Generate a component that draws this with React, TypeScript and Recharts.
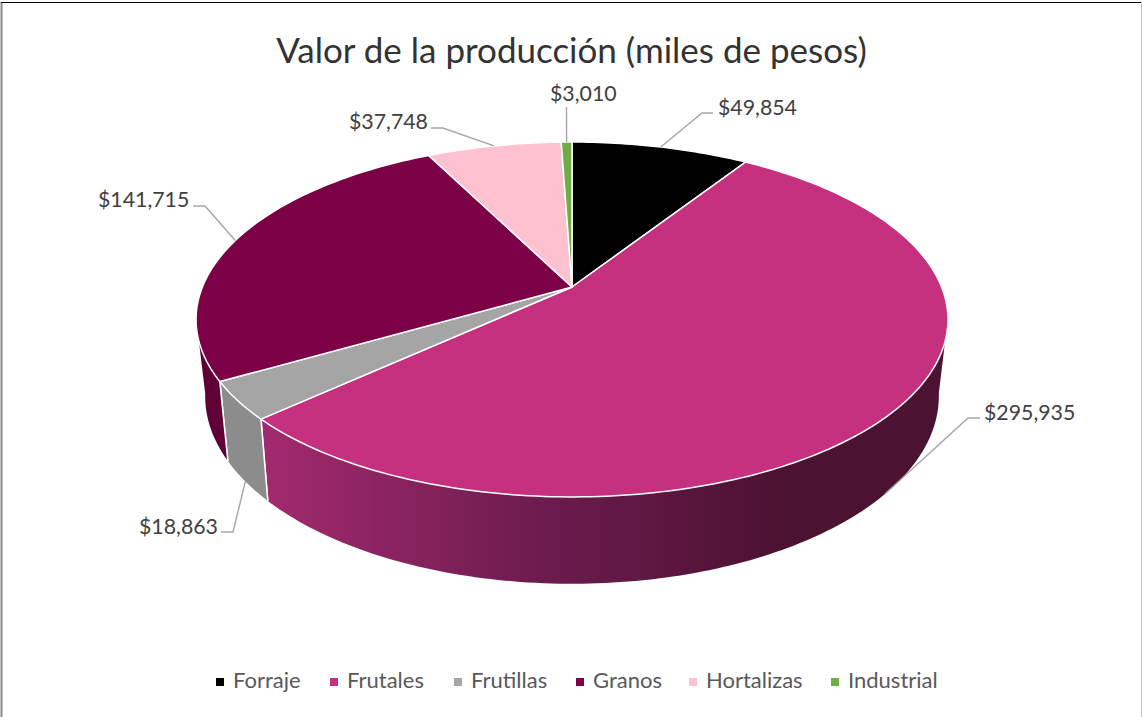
import { Legend, Pie, PieChart } from "recharts";

const categories = ["Forraje", "Frutales", "Frutillas", "Granos", "Hortalizas", "Industrial"];
const values = [49854, 295935, 18863, 141715, 37748, 3010];
const topColors = ["#000000", "#C5307F", "#A5A5A5", "#7B0045", "#FDC1CF", "#70AD47"];
const wallColors = ["#000000", "url(#frutalesWall)", "#8C8C8C", "#5F0036", "#C09098", "#557F35"];

// label text start and leader line elbow, one per category
const labelX = [718, 984, 139, 98, 349, 550];
const labelY = [107, 412, 526, 199, 121, 93];
const elbows = [
  [[702, 113], [713, 113]],
  [[968, 418], [980, 418]],
  [[233, 532], [221, 532]],
  [[205, 206], [193, 206]],
  [[443, 128], [431, 128]],
  [[566.5, 107], [566.5, 107]],
];
const legendLeft = [216, 330, 454, 576, 689, 831];

const data = categories.map((name, i) => ({
  name,
  value: values[i],
  fill: topColors[i],
  wallFill: wallColors[i],
}));

const FONT = "Lato, sans-serif";
const WALL_FROM = 100;
const WALL_TO = 260;

// the pie is seen in perspective: a circle mapped through a homography
function project(cx: number, cy: number, r: number, theta: number, lower = false) {
  const rad = (theta * Math.PI) / 180;
  const X = Math.sin(rad);
  const Y = Math.cos(rad);
  const k = lower ? 0.187 : 0.183;
  const w = 1 + k * Y;
  const b = lower ? r * 0.975 : r;
  const a = lower ? r * 0.49 : r * 0.464;
  const y0 = lower ? cy + 74 : cy;
  return [cx + (b * X) / w, y0 - (a * Y) / w];
}

function arcPoints(cx: number, cy: number, r: number, from: number, to: number, lower = false) {
  const pts: number[][] = [];
  const steps = Math.max(2, Math.ceil(Math.abs(to - from)));
  for (let i = 0; i <= steps; i++) {
    pts.push(project(cx, cy, r, from + ((to - from) * i) / steps, lower));
  }
  return pts;
}

const toPath = (pts: number[][]) =>
  pts.map((p, i) => `${i === 0 ? "M" : "L"}${p[0].toFixed(2)},${p[1].toFixed(2)}`).join(" ");

function TopSlice(props: any) {
  const { cx, cy, outerRadius, startAngle, endAngle, fill } = props;
  const pts = arcPoints(cx, cy, outerRadius, 90 - startAngle, 90 - endAngle);
  return (
    <path
      d={`M${cx},${cy} ${toPath(pts).replace("M", "L")} Z`}
      fill={fill}
      stroke="#FFFFFF"
      strokeWidth={1.5}
      strokeLinejoin="round"
    />
  );
}

function WallSlice(props: any) {
  const { cx, cy, outerRadius, startAngle, endAngle, wallFill } = props;
  const from = Math.max(90 - startAngle, WALL_FROM);
  const to = Math.min(90 - endAngle, WALL_TO);
  if (to <= from) return <g />;
  const upper = arcPoints(cx, cy, outerRadius, from, to);
  const lower = arcPoints(cx, cy, outerRadius, to, from, true);
  const edges = [from, to]
    .filter((t) => t > WALL_FROM && t < WALL_TO)
    .map((t) => [project(cx, cy, outerRadius, t), project(cx, cy, outerRadius, t, true)]);
  return (
    <g>
      <path d={`${toPath([...upper, ...lower])} Z`} fill={wallFill} />
      {edges.map((e, i) => (
        <path key={i} d={toPath(e)} stroke="#FFFFFF" strokeWidth={1.5} fill="none" />
      ))}
    </g>
  );
}

function SliceLabel(props: any) {
  const { cx, cy, outerRadius, midAngle, index, value } = props;
  const theta = 90 - midAngle;
  // leader lines on the front of the pie start from the bottom rim
  const lower = theta > WALL_FROM && theta < WALL_TO;
  const start = project(cx, cy, outerRadius, theta, lower);
  const pts = [start, ...elbows[index]].map((p) => p.join(",")).join(" ");
  return (
    <g>
      <polyline points={pts} fill="none" stroke="#A6A6A6" strokeWidth={1.4} />
      <text
        x={labelX[index]}
        y={labelY[index]}
        dominantBaseline="central"
        fontFamily={FONT}
        fontSize={21.3}
        fill="#404040"
      >
        {"$" + value.toLocaleString("en-US")}
      </text>
    </g>
  );
}

function LegendRow({ payload }: any) {
  // both pies report their slices, keep one entry per category
  const entries = categories.map((name) => (payload ?? []).find((e: any) => e.value === name)).filter(Boolean);
  return (
    <div style={{ position: "relative", height: 30, fontFamily: FONT, fontSize: 22, color: "#595959" }}>
      {entries.map((entry: any, i: number) => (
        <div
          key={entry.value}
          style={{ position: "absolute", left: legendLeft[i], top: 0, lineHeight: "30px", whiteSpace: "nowrap" }}
        >
          <span
            style={{
              display: "inline-block",
              width: 8,
              height: 8,
              marginRight: 9,
              verticalAlign: 2,
              background: entry.color,
            }}
          />
          {entry.value}
        </div>
      ))}
    </div>
  );
}

export default function App() {
  return (
    <div style={{ position: "absolute", left: 0, top: 0, width: 1142, height: 717, background: "#FFFFFF" }}>
      <PieChart width={1142} height={717} margin={{ top: 0, right: 0, bottom: 0, left: 0 }}>
        <defs>
          <linearGradient id="frutalesWall" gradientUnits="userSpaceOnUse" x1={262} y1={0} x2={780} y2={0}>
            <stop offset="0%" stopColor="#A32A6E" />
            <stop offset="55%" stopColor="#6C1B4E" />
            <stop offset="100%" stopColor="#4C1232" />
          </linearGradient>
        </defs>
        <line x1={1.5} y1={2} x2={1.5} y2={717} stroke="#888888" strokeWidth={2} />
        <line x1={1} y1={2.5} x2={1142} y2={2.5} stroke="#000000" strokeWidth={1} />
        <line x1={1141.5} y1={2} x2={1141.5} y2={717} stroke="#BFBFBF" strokeWidth={1} />
        <text x={571.5} y={49} textAnchor="middle" dominantBaseline="central" fontFamily={FONT} fontSize={35} fill="#333333">
          Valor de la producción (miles de pesos)
        </text>
        <Pie
          data={data}
          dataKey="value"
          nameKey="name"
          cx={572}
          cy={287}
          outerRadius={369.6}
          startAngle={90}
          endAngle={-270}
          stroke="none"
          legendType="none"
          shape={WallSlice}
          isAnimationActive={false}
        />
        <Pie
          data={data}
          dataKey="value"
          nameKey="name"
          cx={572}
          cy={287}
          outerRadius={369.6}
          startAngle={90}
          endAngle={-270}
          legendType="square"
          shape={TopSlice}
          label={SliceLabel}
          labelLine={false}
          isAnimationActive={false}
        />
        <Legend
          content={LegendRow}
          wrapperStyle={{ position: "absolute", left: 0, top: 665, width: 1142, height: 30 }}
        />
      </PieChart>
    </div>
  );
}
